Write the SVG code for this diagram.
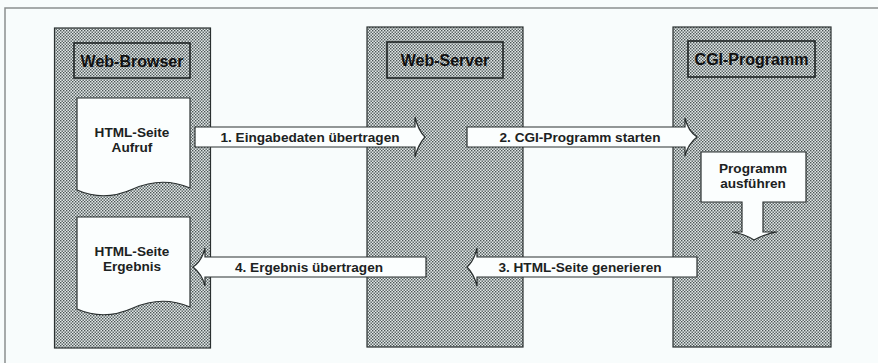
<svg xmlns="http://www.w3.org/2000/svg" width="878" height="363" viewBox="0 0 878 363">
<defs>
<pattern id="dots" width="3" height="3" patternUnits="userSpaceOnUse">
<rect width="3" height="3" fill="#e2e8e8"/>
<rect width="1.4" height="1.4" fill="#4a5454"/>
<rect x="1.5" y="1.5" width="1.4" height="1.4" fill="#4a5454"/>
</pattern>
</defs>
<style>
.col{fill:url(#dots);stroke:#2a3030;stroke-width:1.2}
.title{fill:url(#dots);stroke:#1e2424;stroke-width:1.6}
.white{fill:#fbfefe;stroke:#2a3030;stroke-width:1.2}
.t{font-family:"Liberation Sans",Arial,sans-serif;font-weight:bold;font-size:13.6px;fill:#1c2222;text-anchor:middle}
.h{font-family:"Liberation Sans",Arial,sans-serif;font-weight:bold;font-size:16px;fill:#111;text-anchor:middle}
</style>
<rect width="878" height="363" fill="#f8fcfc"/>
<path d="M5,363 V8 H878" fill="none" stroke="#8a8e8e" stroke-width="1.5"/>

<g id="web-browser">
<rect class="col" x="54.5" y="28" width="156" height="320"/>
<rect class="title" x="74" y="43" width="116" height="35"/>
<text class="h" x="132" y="67">Web-Browser</text>
</g>
<g id="html-aufruf">
<path class="white" d="M77,98 H190 V188 Q162,176 133,189 Q104,202 77,190 Z"/>
<text class="t" x="132" y="137">HTML-Seite</text>
<text class="t" x="132" y="152">Aufruf</text>
</g>
<g id="html-ergebnis">
<path class="white" d="M77,217 H190 V307 Q162,295 133,308 Q104,321 77,309 Z"/>
<text class="t" x="132" y="256">HTML-Seite</text>
<text class="t" x="132" y="271">Ergebnis</text>
</g>

<g id="web-server">
<rect class="col" x="367" y="27" width="156" height="320"/>
<rect class="title" x="387" y="42" width="116" height="36"/>
<text class="h" x="445" y="66">Web-Server</text>
</g>

<g id="cgi-programm">
<rect class="col" x="673" y="27" width="158" height="320"/>
<rect class="title" x="688" y="41" width="127" height="36"/>
<text class="h" x="751.5" y="65">CGI-Programm</text>
</g>
<g id="programm-ausfuehren">
<path class="white" d="M701,152 H806 V202 H763 V232 H777 Q764,234 754,240 Q745,234 732,232 H742 V202 H701 Z"/>
<text class="t" x="753" y="173">Programm</text>
<text class="t" x="753" y="188">ausführen</text>
</g>

<g id="connectors">
<g id="arrow1">
<path class="white" d="M195,127 H415 V117 Q418,130 425,137 Q418,145 415,157 V147 H195 Z"/>
<text class="t" x="310" y="142">1. Eingabedaten übertragen</text>
</g>
<g id="arrow2">
<path class="white" d="M467,127 H685 V118 Q688,131 697,137 Q688,144 685,156 V147 H467 Z"/>
<text class="t" x="580" y="142">2. CGI-Programm starten</text>
</g>
<g id="arrow3">
<path class="white" d="M697,257 H477 V248 Q474,261 467,267 Q474,274 477,286 V277 H697 Z"/>
<text class="t" x="580" y="272">3. HTML-Seite generieren</text>
</g>
<g id="arrow4">
<path class="white" d="M426,257 H205 V248 Q202,261 193,267 Q202,274 205,286 V277 H426 Z"/>
<text class="t" x="309" y="272">4. Ergebnis übertragen</text>
</g>
</g>
</svg>
